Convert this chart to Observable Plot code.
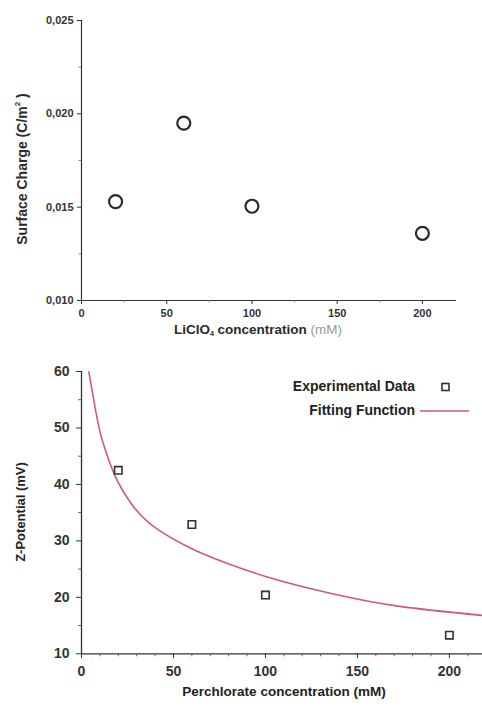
<!DOCTYPE html>
<html>
<head>
<meta charset="utf-8">
<script src="https://cdn.jsdelivr.net/npm/d3@7"></script>
<script src="https://cdn.jsdelivr.net/npm/@observablehq/plot@0.6"></script>
<style>
  body { margin: 0; background: #fff; }
  svg { display: block; }
</style>
</head>
<body>
<div id="topPanel"></div>
<div id="bottomPanel"></div>
<script>
// Top panel: surface charge vs LiClO4 concentration
const chargeConc = [20, 60, 100, 200];
const surfaceCharge = [0.0153, 0.0195, 0.01505, 0.0136];
const chargeYTicks = [0.010, 0.015, 0.020, 0.025];
const chargeYMinor = [0.0125, 0.0175, 0.0225];
const chargeXTicks = [0, 50, 100, 150, 200];
const chargeXMinor = [25, 75, 125, 175];

// Bottom panel: Z-potential vs perchlorate concentration
const zetaConc = [20, 60, 100, 200];
const zetaValues = [42.5, 32.9, 20.4, 13.3];
const fitConc = [4, 6.7, 10.3, 15, 19.4, 28.4, 42, 60, 73, 101, 137, 173, 218];
const fitZeta = [59.9, 54.9, 49.0, 44.2, 40.7, 36.0, 31.9, 28.6, 26.8, 23.6, 20.6, 18.4, 16.8];
const zetaYTicks = [10, 20, 30, 40, 50, 60];
const zetaYMinor = [15, 25, 35, 45, 55];
const zetaXTicks = [0, 50, 100, 150, 200];
const zetaXMinor = [10, 20, 30, 40, 60, 70, 80, 90, 110, 120, 130, 140, 160, 170, 180, 190, 210];

const FONT = "Liberation Sans, Arial, sans-serif";
const AX = "#333";

const chargeData = chargeConc.map((c, i) => ({c, v: surfaceCharge[i]}));
const zetaData = zetaConc.map((c, i) => ({c, v: zetaValues[i]}));
const fitData = fitConc.map((c, i) => ({c, v: fitZeta[i]}));

const topChart = Plot.plot({
  width: 482, height: 340,
  marginLeft: 81, marginRight: 26, marginTop: 20, marginBottom: 40,
  style: {fontFamily: FONT, fontSize: "11px", fontWeight: "bold", color: AX, background: "#fff"},
  x: {domain: [0, 220]},
  y: {domain: [0.010, 0.025]},
  marks: [
    Plot.ruleY([0.010], {stroke: AX, strokeWidth: 1.2}),
    Plot.ruleX([0], {stroke: AX, strokeWidth: 1.2}),
    Plot.axisY(chargeYTicks, {tickSize: 4, tickPadding: 4, tickFormat: d => d3.format(".3f")(d).replace(".", ","), label: null, stroke: AX, fill: AX}),
    Plot.axisY(chargeYMinor, {tickSize: 2.5, tickFormat: () => "", label: null, stroke: "#888"}),
    Plot.axisX(chargeXTicks, {tickSize: 4, tickPadding: 5, label: null, stroke: AX, fill: AX}),
    Plot.axisX(chargeXMinor, {tickSize: 2.5, tickFormat: () => "", label: null, stroke: "#888"}),
    Plot.dot(chargeData, {x: "c", y: "v", r: 6.5, stroke: "#2a2a2a", strokeWidth: 2.2, fill: "none"})
  ]
});
document.getElementById("topPanel").append(topChart);

const bottomChart = Plot.plot({
  width: 482, height: 366,
  marginLeft: 81, marginRight: 0, marginTop: 31, marginBottom: 52.7,
  style: {fontFamily: FONT, fontSize: "14px", fontWeight: "bold", color: AX, background: "#fff"},
  x: {domain: [0, 218]},
  y: {domain: [10, 60]},
  marks: [
    Plot.line(fitData, {x: "c", y: "v", stroke: "#cc5a78", strokeWidth: 1.6, curve: "natural"}),
    Plot.ruleY([10], {stroke: AX, strokeWidth: 1.3}),
    Plot.ruleX([0], {stroke: AX, strokeWidth: 1.3}),
    Plot.axisY(zetaYTicks, {tickSize: 5, tickPadding: 7, label: null, stroke: AX, fill: AX}),
    Plot.axisY(zetaYMinor, {tickSize: 3, tickFormat: () => "", label: null, stroke: "#666"}),
    Plot.axisX(zetaXTicks, {tickSize: 5, tickPadding: 7, label: null, stroke: AX, fill: AX}),
    Plot.axisX(zetaXMinor, {tickSize: 3, tickFormat: () => "", label: null, stroke: "#666"}),
    Plot.dot(zetaData, {x: "c", y: "v", symbol: "square", r: 4.2, stroke: "#333", strokeWidth: 1.6, fill: "none"})
  ]
});
document.getElementById("bottomPanel").append(bottomChart);

// Axis titles with sub/superscripts
const ts = d3.select(topChart);
const yl = ts.append("text")
  .attr("transform", "translate(23,169) rotate(-90)")
  .attr("text-anchor", "middle").attr("dominant-baseline", "middle")
  .attr("font-family", FONT).attr("font-size", 14).attr("font-weight", "bold").attr("fill", "#2a2a2a");
yl.append("tspan").text("Surface Charge (C/m");
yl.append("tspan").text("2").attr("font-size", 8).attr("dy", -5);
yl.append("tspan").text(" )").attr("dy", 5);

const xl = ts.append("text")
  .attr("x", 258).attr("y", 330)
  .attr("text-anchor", "middle").attr("dominant-baseline", "middle")
  .attr("font-family", FONT).attr("font-size", 13.5).attr("font-weight", "bold").attr("fill", "#2a2a2a");
xl.append("tspan").text("LiClO");
xl.append("tspan").text("4").attr("font-size", 7).attr("dy", 4);
xl.append("tspan").text(" concentration ").attr("dy", -4);
xl.append("tspan").text("(mM)").attr("font-weight", "normal").attr("fill", "#999");

const bs = d3.select(bottomChart);
bs.append("text")
  .attr("transform", "translate(22,172) rotate(-90)")
  .attr("text-anchor", "middle").attr("dominant-baseline", "middle")
  .attr("font-family", FONT).attr("font-size", 13).attr("font-weight", "bold").attr("fill", "#222")
  .text("Z-Potential (mV)");
bs.append("text")
  .attr("x", 284).attr("y", 352)
  .attr("text-anchor", "middle").attr("dominant-baseline", "middle")
  .attr("font-family", FONT).attr("font-size", 13.5).attr("font-weight", "bold").attr("fill", "#222")
  .text("Perchlorate concentration (mM)");

// Legend
const lg = bs.append("g").attr("font-family", FONT).attr("font-size", 14).attr("fill", "#222");
lg.append("text").attr("x", 415).attr("y", 47).attr("text-anchor", "end")
  .attr("dominant-baseline", "middle").text("Experimental Data");
lg.append("rect").attr("x", 442).attr("y", 43.5).attr("width", 7).attr("height", 7)
  .attr("fill", "none").attr("stroke", "#333").attr("stroke-width", 1.6);
lg.append("text").attr("x", 415).attr("y", 71).attr("text-anchor", "end")
  .attr("dominant-baseline", "middle").text("Fitting Function");
lg.append("line").attr("x1", 420).attr("x2", 469).attr("y1", 71).attr("y2", 71)
  .attr("stroke", "#cc5a78").attr("stroke-width", 1.6);
</script>
</body>
</html>
